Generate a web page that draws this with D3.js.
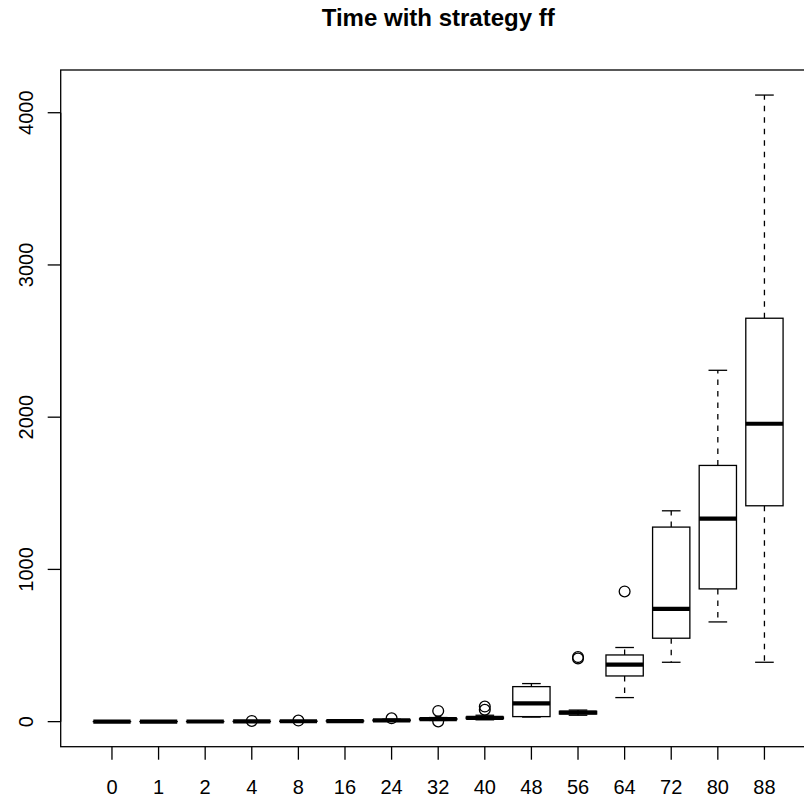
<!DOCTYPE html>
<html>
<head>
<meta charset="utf-8">
<script src="https://cdn.jsdelivr.net/npm/d3@7"></script>
<style>
  body { margin: 0; background: #fff; }
  svg { display: block; }
</style>
</head>
<body>
<div class="container"></div>
<script>
// data (time per number of items)
const categories = ["0", "1", "2", "4", "8", "16", "24", "32", "40", "48", "56", "64", "72", "80", "88"];
const whiskerLow = [0, 0.1, 0.2, 0.4, 0.8, 1.5, 3, 8, 12, 30, 42, 158, 390, 655, 390];
const q1 = [0.2, 0.3, 0.5, 1.0, 1.8, 3, 6, 14, 20, 33, 50, 300, 548, 872, 1418];
const median = [0.4, 0.5, 0.8, 1.4, 2.5, 4, 8, 17, 25, 120, 60, 374, 741, 1333, 1957];
const q3 = [0.6, 0.8, 1.1, 1.9, 3.2, 5.5, 11, 20, 30, 230, 68, 438, 1278, 1683, 2650];
const whiskerHigh = [1.0, 1.2, 1.6, 2.8, 4.6, 8, 16, 27, 42, 250, 76, 487, 1385, 2308, 4116];
const outliers = [[], [], [], [4.5], [7], [], [22], [1, 70], [78, 99], [], [415, 424], [855], [], [], []];
const yTicks = [0, 1000, 2000, 3000, 4000];
const title = "Time with strategy ff";

const width = 804, height = 799;
const plot = { left: 60.7, right: 815.7, top: 70, bottom: 746.7 };
const font = "'Liberation Sans', Arial, sans-serif";

const svg = d3.select('.container').append('svg')
    .attr('width', width)
    .attr('height', height);

// R style scales: 4% expansion on both axes
const n = categories.length;
const x = d3.scaleLinear().domain([0.5 - 0.04 * n, n + 0.5 + 0.04 * n]).range([plot.left, plot.right]);
const allVals = whiskerLow.concat(whiskerHigh, outliers.flat());
const yMin = d3.min(allVals), yMax = d3.max(allVals);
const pad = 0.04 * (yMax - yMin);
const y = d3.scaleLinear().domain([yMin - pad, yMax + pad]).range([plot.bottom, plot.top]);

const boxHalf = 0.4, capHalf = 0.2;

const groups = categories.map((c, i) => ({
    cat: c, pos: i + 1,
    lo: whiskerLow[i], q1: q1[i], med: median[i], q3: q3[i], hi: whiskerHigh[i],
    out: outliers[i]
}));

const g = svg.selectAll('g.box').data(groups).enter().append('g').attr('class', 'box');

// whiskers (dashed)
g.append('line')
    .attr('x1', d => x(d.pos)).attr('x2', d => x(d.pos))
    .attr('y1', d => y(d.q3)).attr('y2', d => y(d.hi))
    .attr('stroke', '#000').attr('stroke-width', 1.3).attr('stroke-dasharray', '5.5,6');
g.append('line')
    .attr('x1', d => x(d.pos)).attr('x2', d => x(d.pos))
    .attr('y1', d => y(d.q1)).attr('y2', d => y(d.lo))
    .attr('stroke', '#000').attr('stroke-width', 1.3).attr('stroke-dasharray', '5.5,6');

// staples
['hi', 'lo'].forEach(k => {
    g.append('line')
        .attr('x1', d => x(d.pos - capHalf)).attr('x2', d => x(d.pos + capHalf))
        .attr('y1', d => y(d[k])).attr('y2', d => y(d[k]))
        .attr('stroke', '#000').attr('stroke-width', 1.3);
});

// boxes
g.append('rect')
    .attr('x', d => x(d.pos - boxHalf))
    .attr('width', d => x(d.pos + boxHalf) - x(d.pos - boxHalf))
    .attr('y', d => y(d.q3))
    .attr('height', d => y(d.q1) - y(d.q3))
    .attr('fill', '#fff').attr('stroke', '#000').attr('stroke-width', 1.3);

// medians
g.append('line')
    .attr('x1', d => x(d.pos - boxHalf)).attr('x2', d => x(d.pos + boxHalf))
    .attr('y1', d => y(d.med)).attr('y2', d => y(d.med))
    .attr('stroke', '#000').attr('stroke-width', 4.2);

// outliers
g.selectAll('circle').data(d => d.out.map(v => ({ pos: d.pos, v: v }))).enter().append('circle')
    .attr('cx', d => x(d.pos)).attr('cy', d => y(d.v)).attr('r', 5.4)
    .attr('fill', 'none').attr('stroke', '#000').attr('stroke-width', 1.3);

// plot frame
svg.append('rect')
    .attr('x', plot.left).attr('y', plot.top)
    .attr('width', plot.right - plot.left).attr('height', plot.bottom - plot.top)
    .attr('fill', 'none').attr('stroke', '#000').attr('stroke-width', 1.3);

// x axis
const xAxis = svg.append('g');
xAxis.selectAll('line').data(groups).enter().append('line')
    .attr('x1', d => x(d.pos)).attr('x2', d => x(d.pos))
    .attr('y1', plot.bottom).attr('y2', plot.bottom + 13)
    .attr('stroke', '#000').attr('stroke-width', 1.3);
xAxis.selectAll('text').data(groups).enter().append('text')
    .attr('x', d => x(d.pos)).attr('y', 794)
    .attr('text-anchor', 'middle')
    .attr('font-family', font).attr('font-size', '20px')
    .text(d => d.cat);

// y axis (R draws the line only between the outer ticks)
const yAxis = svg.append('g');
yAxis.append('line')
    .attr('x1', plot.left).attr('x2', plot.left)
    .attr('y1', y(yTicks[0])).attr('y2', y(yTicks[yTicks.length - 1]))
    .attr('stroke', '#000').attr('stroke-width', 1.3);
yAxis.selectAll('line.tick').data(yTicks).enter().append('line').attr('class', 'tick')
    .attr('x1', plot.left - 13).attr('x2', plot.left)
    .attr('y1', d => y(d)).attr('y2', d => y(d))
    .attr('stroke', '#000').attr('stroke-width', 1.3);
yAxis.selectAll('text').data(yTicks).enter().append('text')
    .attr('transform', d => `translate(33,${y(d)}) rotate(-90)`)
    .attr('text-anchor', 'middle')
    .attr('font-family', font).attr('font-size', '20px')
    .text(d => d);

// title
svg.append('text')
    .attr('x', (plot.left + plot.right) / 2).attr('y', 25.5)
    .attr('text-anchor', 'middle')
    .attr('font-family', font).attr('font-size', '24px').attr('font-weight', 'bold')
    .text(title);
</script>
</body>
</html>
